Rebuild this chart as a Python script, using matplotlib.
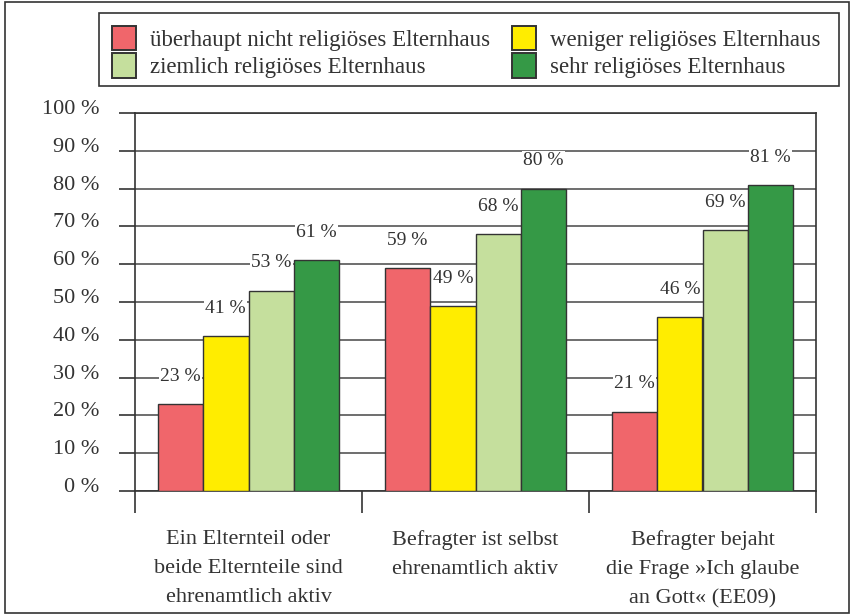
import matplotlib.pyplot as plt
import matplotlib.transforms as mtransforms
from matplotlib.patches import Rectangle, Patch
import numpy as np

plt.rcParams['font.family'] = ['Liberation Serif', 'DejaVu Serif']

categories = ["Ein Elternteil oder\nbeide Elternteile sind\nehrenamtlich aktiv",
              "Befragter ist selbst\nehrenamtlich aktiv",
              "Befragter bejaht\ndie Frage »Ich glaube\nan Gott« (EE09)"]
series = ["überhaupt nicht religiöses Elternhaus",
          "weniger religiöses Elternhaus",
          "ziemlich religiöses Elternhaus",
          "sehr religiöses Elternhaus"]
values = [[23, 59, 21],
          [41, 49, 46],
          [53, 68, 69],
          [61, 80, 81]]
colors = ["#F0666B", "#FFED00", "#C5DF9D", "#359946"]
yticks = [0, 10, 20, 30, 40, 50, 60, 70, 80, 90, 100]

txt = "#333333"
edge = "#333333"

fig = plt.figure(figsize=(8.52, 6.16), dpi=100)
ax = fig.add_axes([135/852, 1-491/616, (816-135)/852, (491-113)/616])

x = np.arange(len(categories))
w = 0.2
for i, (name, vals, c) in enumerate(zip(series, values, colors)):
    pos = x + (i - 1.5) * w
    ax.bar(pos, vals, w, color=c, edgecolor=edge, linewidth=1.0, zorder=3)
    for px, v in zip(pos, vals):
        ax.annotate(f"{v} %", (px, v), xytext=(0, 20), textcoords="offset points",
                    ha="center", va="center", fontsize=14, color=txt, zorder=2,
                    bbox=dict(facecolor="white", edgecolor="none", pad=1))

ax.set_xlim(-0.5, 2.5)
ax.set_ylim(0, 100)

# grid
for t in yticks:
    ax.axhline(t, color="#555555", lw=1.2, zorder=1)

ax.set_yticks(yticks)
ax.set_yticklabels([f"{t} %" for t in yticks], fontsize=16, color=txt)
ax.tick_params(axis="y", length=11.5, width=1.2, color=edge, pad=14)
off = mtransforms.ScaledTranslation(0, 4.3/72, fig.dpi_scale_trans)
for lab in ax.get_yticklabels():
    lab.set_transform(lab.get_transform() + off)

ax.set_xticks(x)
ax.set_xticklabels(categories, fontsize=16, color=txt, linespacing=1.72)
ax.tick_params(axis="x", which="major", length=0, pad=28)
ax.set_xticks([-0.5, 0.5, 1.5, 2.5], minor=True)
ax.tick_params(axis="x", which="minor", length=16, width=1.2, color=edge)

for s in ax.spines.values():
    s.set_color(edge)
    s.set_linewidth(1.2)

# legend (frame drawn separately)
handles = [Patch(facecolor=c, edgecolor=edge, linewidth=1.4) for c in colors]
order = [0, 2, 1, 3]
leg = fig.legend([handles[i] for i in order], [series[i] for i in order], ncol=2,
                 loc="upper left", bbox_to_anchor=(105/852, 1-19/616, 722/852, 0),
                 mode="expand", fontsize=16.5, frameon=False,
                 handlelength=1.05, handleheight=1.25, handletextpad=0.6,
                 labelspacing=0.12, borderpad=0.3, borderaxespad=0,
                 labelcolor=txt)
fig.patches.append(Rectangle((99/852, 1-86/616), 740/852, 73/616, transform=fig.transFigure,
                             fill=False, edgecolor=edge, lw=1.2))

fig.patches.append(Rectangle((5/852, 3/616), 844/852, 611/616, transform=fig.transFigure,
                             fill=False, edgecolor=edge, lw=1.2))

fig.savefig("out.png", dpi=100)
